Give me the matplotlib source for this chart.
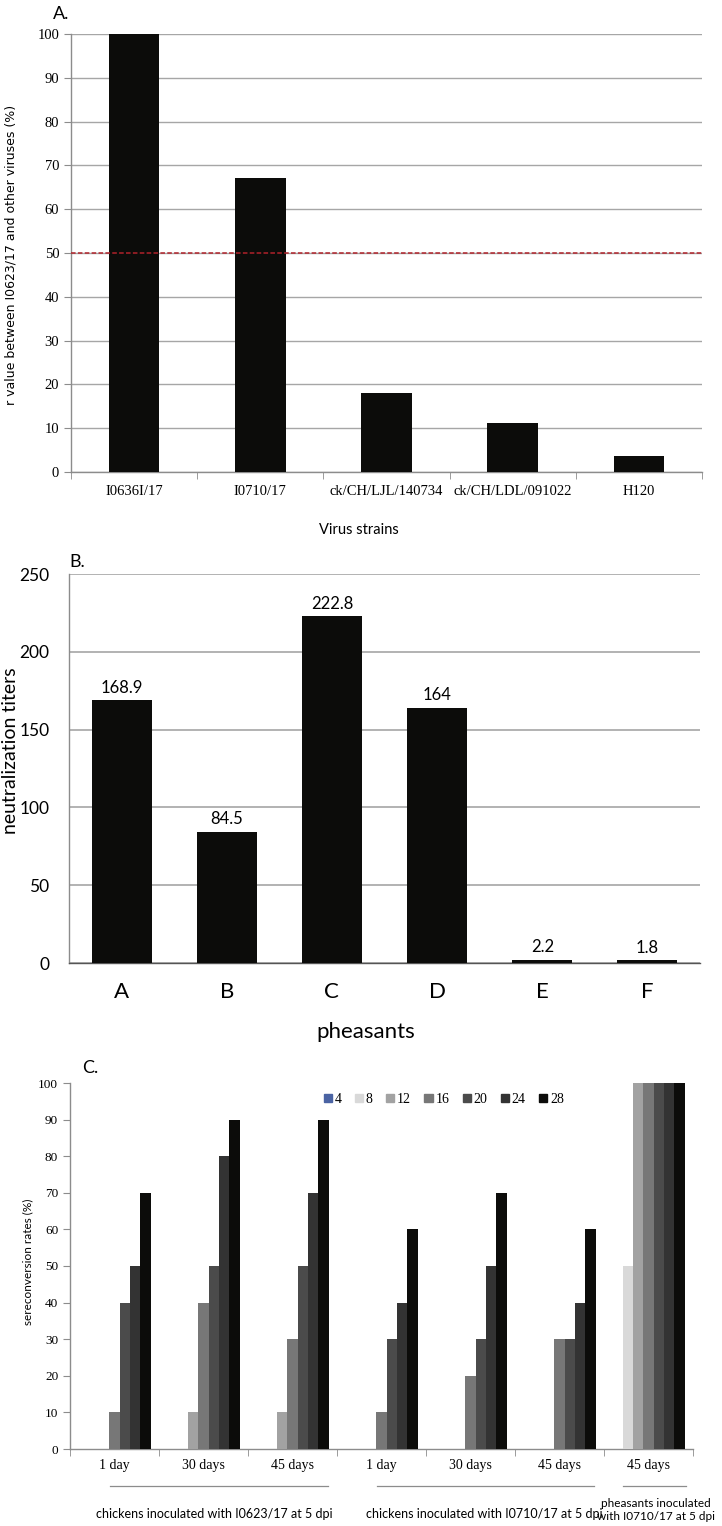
import numpy as np
import matplotlib
matplotlib.use("Agg")
import matplotlib.pyplot as plt
from matplotlib.patches import Patch

# Panel A: r values between I0623/17 and other viruses
strains = ["I0636I/17", "I0710/17", "ck/CH/LJL/140734", "ck/CH/LDL/091022", "H120"]
r_values = [100, 67.2, 18.0, 11.2, 3.7]
r_cutoff = 50

# Panel B: neutralization titers per pheasant
pheasants = ["A", "B", "C", "D", "E", "F"]
titers = [168.9, 84.5, 222.8, 164, 2.2, 1.8]

# Panel C: seroconversion rates (%) per group and day
groups = ["1 day", "30 days", "45 days", "1 day", "30 days", "45 days", "45 days"]
series_names = ["4", "8", "12", "16", "20", "24", "28"]
rates = {
    "4":  [0, 0, 0, 0, 0, 0, 0],
    "8":  [0, 0, 0, 0, 0, 0, 50],
    "12": [0, 10, 10, 0, 0, 0, 100],
    "16": [10, 40, 30, 10, 20, 30, 100],
    "20": [40, 50, 50, 30, 30, 30, 100],
    "24": [50, 80, 70, 40, 50, 40, 100],
    "28": [70, 90, 90, 60, 70, 60, 100],
}
group_titles = ["chickens inoculated with I0623/17 at 5 dpi",
                "chickens inoculated with I0710/17 at 5 dpi",
                "pheasants inoculated\nwith I0710/17 at 5 dpi"]

series_colors = ["#4a63a3", "#d9d9d9", "#a2a2a2", "#777777", "#4b4b4b", "#333333", "#0c0c0a"]
BAR = "#0c0c0a"
GRID = "#a6a6a6"
SERIF = "Liberation Serif"
SANS = "Lato"

W, H = 722, 1526


def px_axes(fig, left, top, right, bottom):
    return fig.add_axes([left / W, 1 - bottom / H, (right - left) / W, (bottom - top) / H])


def fig_text(fig, x, y, s, **kw):
    # place text by pixel position, measured from top-left
    return fig.text(x / W, 1 - y / H, s, **kw)


def style_spines(ax):
    for side in ["top", "right"]:
        ax.spines[side].set_visible(False)
    for side in ["left", "bottom"]:
        ax.spines[side].set_color("#8c8c8c")
        ax.spines[side].set_linewidth(1)


def plot_panel_a(fig):
    ax = px_axes(fig, 71, 34, 702, 472)
    x = np.arange(len(strains))
    ax.bar(x, r_values, width=0.4, color=BAR, zorder=3)
    ax.axhline(r_cutoff, color="#b0222a", ls=(0, (3, 1.5)), lw=1.1, zorder=4)
    ax.set_xlim(-0.5, len(strains) - 0.5)
    ax.set_ylim(0, 100)
    ax.set_yticks(range(0, 101, 10))
    ax.yaxis.grid(True, color=GRID, lw=1)
    ax.set_axisbelow(True)
    style_spines(ax)
    ax.set_xticks(x)
    ax.set_xticklabels(strains, fontfamily=SERIF, fontsize=10.5)
    ax.set_xticks(np.arange(-0.5, len(strains), 1), minor=True)
    ax.tick_params(axis="x", which="major", length=0, pad=9)
    ax.tick_params(axis="x", which="minor", length=5, color="#8c8c8c")
    ax.tick_params(axis="y", length=5, color="#8c8c8c", labelsize=10.5)
    for lab in ax.get_yticklabels():
        lab.set_fontfamily(SERIF)
    fig_text(fig, 11, 255, "r value between I0623/17 and other viruses (%)",
             fontfamily="DejaVu Sans", fontsize=9, rotation=90, ha="center", va="center")
    fig_text(fig, 53, 14, "A.", fontfamily=SANS, fontsize=13, va="center")
    fig_text(fig, 359, 530, "Virus strains", fontfamily=SANS, fontsize=10.5,
             ha="center", va="center")


def plot_panel_b(fig):
    ax = px_axes(fig, 69, 574, 700, 963)
    x = np.arange(len(pheasants))
    bars = ax.bar(x, titers, width=0.57, color=BAR, zorder=3)
    for b, v in zip(bars, titers):
        ax.text(b.get_x() + b.get_width() / 2, v + 3, f"{v:g}", ha="center", va="bottom",
                fontfamily=SANS, fontsize=12)
    ax.set_xlim(-0.5, len(pheasants) - 0.5)
    ax.set_ylim(0, 250)
    ax.set_yticks(range(0, 251, 50))
    ax.yaxis.grid(True, color=GRID, lw=1.2)
    ax.set_axisbelow(True)
    style_spines(ax)
    ax.spines["bottom"].set_color("#555555")
    ax.set_xticks(x)
    ax.set_xticklabels(pheasants, fontfamily=SANS, fontsize=16)
    ax.tick_params(axis="x", length=0, pad=14)
    ax.tick_params(axis="y", length=0, pad=14, labelsize=12.5)
    for lab in ax.get_yticklabels():
        lab.set_fontfamily(SANS)
    fig_text(fig, 11, 751, "neutralization titers", fontfamily=SANS, fontsize=14,
             rotation=90, ha="center", va="center")
    fig_text(fig, 69, 562, "B.", fontfamily=SANS, fontsize=13, va="center")
    fig_text(fig, 366, 1032, "pheasants", fontfamily=SANS, fontsize=16,
             ha="center", va="center")


def plot_panel_c(fig):
    ax = px_axes(fig, 70, 1083, 693, 1449)
    n = len(series_names)
    width = 0.81 / n
    x = np.arange(len(groups))
    for i, name in enumerate(series_names):
        ax.bar(x - 0.405 + width * (i + 0.5), rates[name], width=width,
               color=series_colors[i], label=name, zorder=3)
    ax.set_xlim(-0.5, len(groups) - 0.5)
    ax.set_ylim(0, 100)
    ax.set_yticks(range(0, 101, 10))
    style_spines(ax)
    ax.set_xticks(x)
    ax.set_xticklabels(groups, fontfamily=SERIF, fontsize=10)
    ax.set_xticks(np.arange(-0.5, len(groups), 1), minor=True)
    ax.tick_params(axis="x", which="major", length=0, pad=7)
    ax.tick_params(axis="x", which="minor", length=5, color="#8c8c8c")
    ax.tick_params(axis="y", length=5, color="#8c8c8c", labelsize=9.5)
    for lab in ax.get_yticklabels():
        lab.set_fontfamily(SERIF)
    fig_text(fig, 28, 1262, "sereconversion rates (%)", fontfamily=SANS, fontsize=8.5,
             rotation=90, ha="center", va="center")

    handles = [Patch(color=c) for c in series_colors]
    ax.legend(handles, series_names, ncol=n, loc="center", bbox_to_anchor=(0.6, 0.955),
              frameon=False, handlelength=0.6, handleheight=0.6, handletextpad=0.2,
              columnspacing=0.95, prop={"family": SERIF, "size": 10})

    # group underlines and captions (data x, under the tick labels)
    line_spans = [(-0.05, 2.40), (2.95, 5.39), (5.71, 6.42)]
    caption_pos = [(1.12, -0.178, 9), (4.15, -0.178, 9), (6.08, -0.166, 8.5)]
    trans = ax.get_xaxis_transform()
    for (a, b), (cx, cy, fs), title in zip(line_spans, caption_pos, group_titles):
        ax.plot([a, b], [-0.1, -0.1], color="#8c8c8c", lw=0.9,
                transform=trans, clip_on=False)
        ax.text(cx, cy, title, transform=trans, ha="center", va="center",
                fontfamily=SANS, fontsize=fs, linespacing=1.25)
    fig_text(fig, 82, 1068, "C.", fontfamily=SANS, fontsize=13, va="center")


def main():
    fig = plt.figure(figsize=(W / 100, H / 100), dpi=100)
    plot_panel_a(fig)
    plot_panel_b(fig)
    plot_panel_c(fig)
    fig.savefig("out.png", dpi=100)
    plt.close(fig)


if __name__ == "__main__":
    main()
